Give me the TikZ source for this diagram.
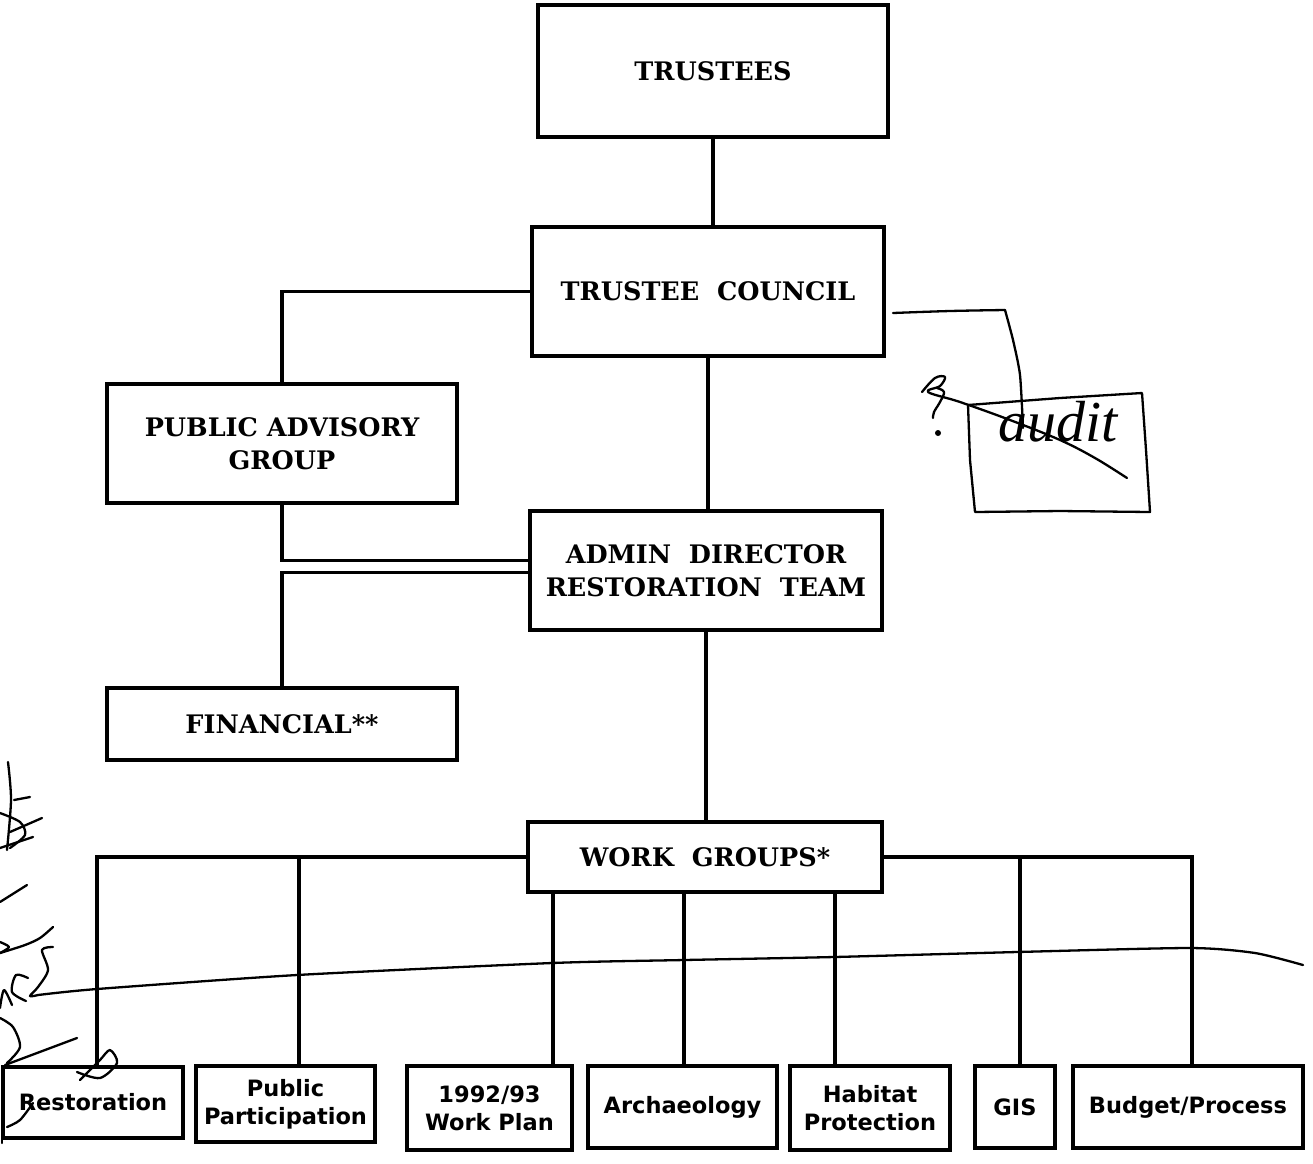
\documentclass[tikz,border=0pt]{standalone}
\usepackage{fontspec}
\newfontfamily\boxserif{DejaVu Serif}
\newfontfamily\boxsans{DejaVu Sans}
\newfontfamily\handfont{Liberation Serif}
\usetikzlibrary{calc}
\begin{document}
\begin{tikzpicture}[x=1pt,y=-1pt,
  box/.style={draw, line width=3.2pt, inner sep=0pt, align=center},
  topbox/.style={box, font={\boxserif\bfseries\fontsize{25.5}{33}\selectfont}},
  lowbox/.style={box, font={\boxsans\bfseries\fontsize{22.5}{28}\selectfont}},
  conn/.style={line width=3.2pt},
  hand/.style={line width=2.3pt, line cap=round, line join=round}]
\fill[white] (0,0) rectangle (1313,1163);
\useasboundingbox (0,0) rectangle (1313,1163);

% upper boxes
\node[topbox, minimum width=350pt, minimum height=132pt] (tr) at (713,71) {TRUSTEES};
\node[topbox, minimum width=352pt, minimum height=129pt] (tc) at (708,291.5) {TRUSTEE\ \ COUNCIL};
\node[topbox, minimum width=350pt, minimum height=119pt] (pag) at (282,443.5) {PUBLIC ADVISORY\\GROUP};
\node[topbox, minimum width=352pt, minimum height=119pt] (adr) at (706,570.5) {ADMIN\ \ DIRECTOR\\RESTORATION\ \ TEAM};
\node[topbox, minimum width=350pt, minimum height=72pt] (fin) at (282,724) {FINANCIAL**};
\node[topbox, minimum width=354pt, minimum height=70pt] (wg) at (705,857) {WORK\ \ GROUPS*};

% lower boxes
\node[lowbox, minimum width=180pt, minimum height=71pt] (b1) at (93,1102.5) {Restoration};
\node[lowbox, minimum width=179pt, minimum height=76pt] (b2) at (285.5,1104) {Public\\Participation};
\node[lowbox, minimum width=165pt, minimum height=84pt] (b3) at (489.5,1108) {1992/93\\Work Plan};
\node[lowbox, minimum width=189pt, minimum height=82pt] (b4) at (682.5,1107) {Archaeology};
\node[lowbox, minimum width=160pt, minimum height=84pt] (b5) at (870,1108) {Habitat\\Protection};
\node[lowbox, minimum width=80pt, minimum height=82pt] (b6) at (1015,1107) {GIS};
\node[lowbox, minimum width=230pt, minimum height=82pt] (b7) at (1188,1107) {Budget/Process};

% connectors
\draw[conn] (tr.south) -- (tr.south |- tc.north);
\draw[conn] (tc.west) -| (pag.north);
\draw[conn] (tc.south) -- (tc.south |- adr.north);
\draw[conn] (pag.south) |- ($(adr.west)+(0,-10)$);
\draw[conn] (fin.north) |- ($(adr.west)+(0,2)$);
\draw[conn] (adr.south) -- (adr.south |- wg.north);
\draw[conn] (wg.west) -| ([xshift=4pt]b1.north);
\draw[conn] ([xshift=13.5pt]b2.north) -- ([xshift=13.5pt]b2.north |- wg.west);
\draw[conn] ([xshift=63.5pt]b3.north) -- ([xshift=63.5pt]b3.north |- wg.south);
\draw[conn] ([xshift=1.5pt]b4.north) -- ([xshift=1.5pt]b4.north |- wg.south);
\draw[conn] ([xshift=-35pt]b5.north) -- ([xshift=-35pt]b5.north |- wg.south);
\draw[conn] (wg.east) -| ([xshift=4pt]b7.north);
\draw[conn] ([xshift=5pt]b6.north) -- ([xshift=5pt]b6.north |- wg.east);

% handwritten annotations: audit box
\draw[hand] plot[smooth, tension=0.6] coordinates {(893,313) (950,311) (1005,310)};
\draw[hand] plot[smooth, tension=0.4] coordinates {(1005,310) (1013,340) (1020,375) (1023,428)};
\draw[hand] (968,405) -- (1060,398) -- (1142,393) -- (1146,450) -- (1150,512) -- (1060,511) -- (975,512) -- (970,460) -- cycle;
\node[font={\handfont\itshape\fontsize{58}{60}\selectfont}, inner sep=0pt] (aud) at (1058,422) {audit};
\draw[hand] plot[smooth, tension=0.6] coordinates {(922,392) (935,378) (945,377) (940,386) (928,392) (960,402) (1010,420) (1060,440) (1095,458) (1127,478)};
\draw[hand] plot[smooth, tension=0.6] coordinates {(937,388) (944,392) (940,402) (934,412) (933,418)};
\fill (938,433) circle (3pt);

% long curve
\draw[hand] plot[smooth, tension=0.4] coordinates {(38,995) (97,989) (297,975) (552,963) (684,960) (834,957) (1017,952) (1190,948) (1255,953) (1303,965)};

% left margin scribbles
\draw[hand] plot[smooth] coordinates {(8,762) (11,800) (7,850)};
\draw[hand] (14,800) -- (30,797);
\draw[hand] plot[smooth] coordinates {(0,813) (20,822) (25,835) (10,848)};
\draw[hand] (10,832) -- (42,818);
\draw[hand] (0,848) -- (33,837);
\draw[hand] (0,902) -- (27,885);
\draw[hand] plot[smooth] coordinates {(0,942) (9,947) (0,953)};
\draw[hand] plot[smooth] coordinates {(0,953) (25,945) (40,938) (53,927)};
\draw[hand] plot[smooth] coordinates {(0,1008) (4,990) (12,1005)};
\draw[hand] plot[smooth] coordinates {(28,978) (16,975) (12,992) (26,1001)};
\draw[hand] plot[smooth] coordinates {(53,947) (42,950) (48,970) (38,987) (30,996) (38,995)};
\draw[hand] plot[smooth] coordinates {(0,1018) (13,1027) (20,1047) (7,1063)};
\draw[hand] (5,1065) -- (77,1038);
\draw[hand] plot[smooth] coordinates {(77,1072) (100,1078) (117,1063) (110,1050) (100,1060) (87,1073) (80,1080)};
\draw[hand] plot[smooth] coordinates {(7,1127) (20,1120) (33,1103)};
\draw[hand] (2,1080) -- (2,1143);
\end{tikzpicture}
\end{document}
